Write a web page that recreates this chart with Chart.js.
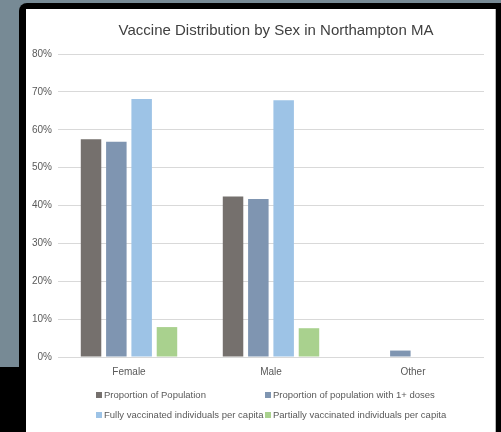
<!DOCTYPE html>
<html>
<head>
<meta charset="utf-8">
<script src="https://cdn.jsdelivr.net/npm/chart.js@4"></script>
<style>
  html, body { margin: 0; padding: 0; width: 501px; height: 432px; overflow: hidden; background: #000; }
  #slate { position: absolute; left: 0; top: 0; width: 501px; height: 367px; background: #778a95; }
  #frame { position: absolute; left: 19px; top: 3px; width: 482px; height: 429px; background: #000; border-top-left-radius: 8px; }
  #panel { position: absolute; left: 26px; top: 9px; width: 469px; height: 423px; background: #fff; border-right: 1px solid #b8b8b8; }
  #c { position: absolute; left: 26px; top: 9px; }
  #legend { position: absolute; left: 96px; top: 385px; display: grid; grid-template-columns: 169px 190px; font: 9.5px "Liberation Sans", Arial, sans-serif; color: #595959; }
  #legend .item { height: 20px; line-height: 20px; white-space: nowrap; display: flex; align-items: center; }
  #legend .box { width: 6px; height: 6px; margin-right: 2px; display: inline-block; }
</style>
</head>
<body>
<div id="slate"></div>
<div id="frame"></div>
<div id="panel"></div>
<canvas id="c" width="500" height="423"></canvas>
<div id="legend"></div>
<script>
const categories = ['Female', 'Male', 'Other'];
const seriesNames = [
  'Proportion of Population',
  'Proportion of population with 1+ doses',
  'Fully vaccinated individuals per capita',
  'Partially vaccinated individuals per capita'
];
const proportionOfPopulation = [57.5, 42.4, 0];
const oneOrMoreDoses = [56.8, 41.7, 1.7];
const fullyVaccinated = [68.1, 67.8, 0];
const partiallyVaccinated = [7.9, 7.6, 0];
const seriesColors = ['#75706d', '#7f95b1', '#9dc3e6', '#a9d18e'];
const yTickValues = [0, 10, 20, 30, 40, 50, 60, 70, 80];
const yTickLabels = ['0%', '10%', '20%', '30%', '40%', '50%', '60%', '70%', '80%'];

const seriesValues = [proportionOfPopulation, oneOrMoreDoses, fullyVaccinated, partiallyVaccinated];
const font = "'Liberation Sans', Arial, sans-serif";

const chart = new Chart(document.getElementById('c'), {
  type: 'bar',
  data: {
    labels: categories,
    datasets: seriesNames.map((name, i) => ({
      label: name,
      data: seriesValues[i],
      backgroundColor: seriesColors[i],
      borderWidth: 0,
      categoryPercentage: 0.713,
      barPercentage: 0.81,
      yAxisID: 'y'
    }))
  },
  options: {
    responsive: false,
    animation: false,
    layout: { padding: { top: 0, left: 0, right: 0, bottom: 53 } },
    plugins: {
      legend: { display: false },
      tooltip: { enabled: false },
      title: {
        display: true,
        text: 'Vaccine Distribution by Sex in Northampton MA',
        color: '#404040',
        font: { family: font, size: 15, weight: 'normal', lineHeight: 1.2 },
        padding: { top: 13, bottom: 14 }
      }
    },
    scales: {
      x: {
        grid: { display: false },
        border: { display: false },
        ticks: { color: '#595959', font: { family: font, size: 10 }, padding: 1 }
      },
      y: {
        min: 0,
        max: 80,
        afterBuildTicks: (axis) => { axis.ticks = yTickValues.map(v => ({ value: v })); },
        afterFit: (axis) => { axis.width = 32; },
        grid: { color: '#d9d9d9', lineWidth: 1, drawTicks: false },
        border: { display: false },
        ticks: {
          color: '#595959',
          font: { family: font, size: 10 },
          padding: 6,
          callback: (v) => yTickLabels[yTickValues.indexOf(v)]
        }
      },
      yRight: {
        position: 'right',
        display: true,
        grid: { display: false, drawTicks: false },
        border: { display: false },
        ticks: { display: false },
        afterFit: (axis) => { axis.width = 42; }
      }
    }
  }
});

const legendEl = document.getElementById('legend');
chart.data.datasets.forEach((ds) => {
  const item = document.createElement('div');
  item.className = 'item';
  const box = document.createElement('span');
  box.className = 'box';
  box.style.background = ds.backgroundColor;
  const txt = document.createElement('span');
  txt.textContent = ds.label;
  item.appendChild(box);
  item.appendChild(txt);
  legendEl.appendChild(item);
});
</script>
</body>
</html>
